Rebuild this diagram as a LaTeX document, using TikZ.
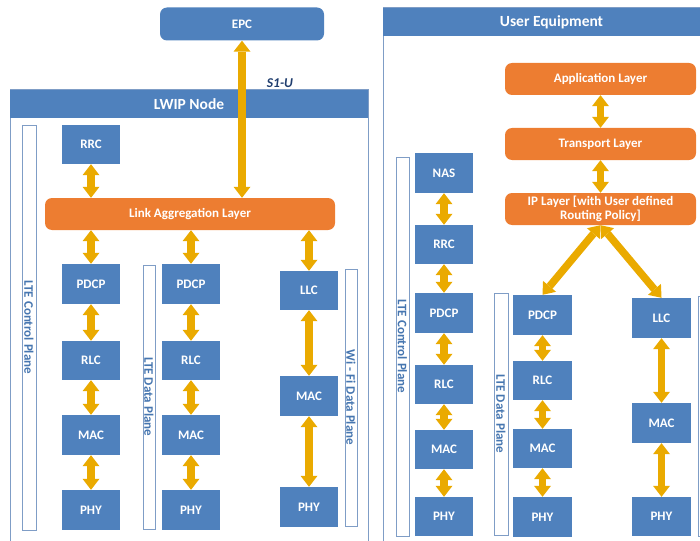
\documentclass[tikz,border=0pt]{standalone}
\usepackage{fontspec}
\setmainfont{Carlito}
\usetikzlibrary{arrows.meta}

\definecolor{boxblue}{HTML}{4F81BD}
\definecolor{layerorange}{HTML}{ED7D31}
\definecolor{arrowgold}{HTML}{EAAA00}
\definecolor{framebl}{HTML}{7F9DC6}
\definecolor{labelblue}{HTML}{4676B0}
\definecolor{linkblue}{HTML}{1F3D6E}

\tikzset{
  boxfont/.style={font=\bfseries\fontsize{13}{15}\selectfont},
  block/.style={boxfont, fill=boxblue, text=white, minimum width=58pt,
    minimum height=40pt, inner sep=0pt},
  layer/.style={boxfont, fill=layerorange, text=white, rounded corners=7pt,
    minimum width=191pt, minimum height=32pt, inner sep=0pt, align=center},
  header/.style={font=\bfseries\fontsize{15.5}{17}\selectfont, fill=boxblue,
    text=white, minimum height=28pt, inner sep=0pt},
  frame/.style={draw=framebl, line width=1pt},
  planebar/.style={draw=framebl, fill=white, line width=0.8pt, rotate=-90,
    text=labelblue, font=\bfseries\fontsize{13}{15}\selectfont, inner sep=0pt},
  link/.style={draw=arrowgold, line width=7.5pt,
    {Triangle[width=17pt,length=11pt,line width=0pt]}-{Triangle[width=17pt,length=11pt,line width=0pt]}},
}

\begin{document}
\begin{tikzpicture}[x=1pt,y=-1pt]
\useasboundingbox (0,0) rectangle (700,540);
\clip (0,0) rectangle (700,540);

% ---------- LWIP node side ----------
\node[block, rounded corners=7pt, minimum width=164pt, minimum height=33pt] (epc) at (242,24) {EPC};
\draw[frame] (10,90) rectangle (368,550);
\node[header, minimum width=358pt] (lwip) at (189,104) {LWIP Node};
\node[font=\bfseries\itshape\fontsize{13.5}{15}\selectfont, text=linkblue] (s1u) at (280,83) {S1-U};

\node[planebar, minimum width=405pt, minimum height=14pt] (ctrlA) at (29,327.5) {LTE Control Plane};
\node[planebar, minimum width=264pt, minimum height=12pt] (dataA) at (149,397) {LTE Data Plane};
\node[planebar, minimum width=257pt, minimum height=12pt] (wifiA) at (351,397.5) {Wi - Fi Data Plane};

\node[block, minimum height=39pt] (rrcA) at (91,144.5) {RRC};
\node[layer, minimum width=290pt] (agg) at (190,214) {Link Aggregation Layer};

\node[block] (pdcpA) at (91,284) {PDCP};
\node[block, minimum height=39pt] (rlcA) at (91,360.5) {RLC};
\node[block] (macA) at (91,435) {MAC};
\node[block] (phyA) at (91,510) {PHY};

\node[block] (pdcpB) at (191,284) {PDCP};
\node[block, minimum height=39pt] (rlcB) at (191,360.5) {RLC};
\node[block] (macB) at (191,435) {MAC};
\node[block] (phyB) at (191,510) {PHY};

\node[block, minimum height=39pt] (llcA) at (309,290.5) {LLC};
\node[block] (macW) at (309,396) {MAC};
\node[block] (phyW) at (309,507) {PHY};

% ---------- User equipment side ----------
\draw[frame] (383,8) rectangle (720,550);
\node[header, minimum width=337pt] (ue) at (551.5,22) {User Equipment};

\node[layer] (app) at (600.5,79) {Application Layer};
\node[layer] (trans) at (600.5,144) {Transport Layer};
\node[layer, font=\bfseries\fontsize{13}{14}\selectfont] (ip) at (600.5,209) {IP Layer [with User defined\\Routing Policy]};

\node[planebar, minimum width=379pt, minimum height=13pt] (ctrlU) at (402.5,346.5) {LTE Control Plane};
\node[planebar, minimum width=242pt, minimum height=14pt] (dataU) at (501,414) {LTE Data Plane};
\node[planebar, minimum width=240pt, minimum height=14pt] (wifiU) at (705,416) {};

\node[block] (nasU) at (444,173) {NAS};
\node[block, minimum height=39pt] (rrcU) at (444,244.5) {RRC};
\node[block] (pdcpC) at (444,313) {PDCP};
\node[block, minimum height=39pt] (rlcC) at (444,384.5) {RLC};
\node[block, minimum height=39pt] (macC) at (444,449.5) {MAC};
\node[block, minimum height=39pt] (phyC) at (444,516.5) {PHY};

\node[block, minimum width=59pt] (pdcpU) at (542.5,315) {PDCP};
\node[block, minimum width=59pt, minimum height=39pt] (rlcU) at (542.5,380.5) {RLC};
\node[block, minimum width=59pt, minimum height=39pt] (macU) at (542.5,448.5) {MAC};
\node[block, minimum width=59pt] (phyU) at (542.5,517) {PHY};

\node[block, minimum width=59pt] (llcU) at (661.5,318) {LLC};
\node[block, minimum width=59pt] (macV) at (661.5,423) {MAC};
\node[block, minimum width=59pt, minimum height=39pt] (phyV) at (661.5,516.5) {PHY};

% ---------- connectors ----------
\draw[link] (epc.south) -- (epc.south |- agg.north);
\draw[link] (rrcA.south) -- (rrcA.south |- agg.north);
\draw[link] (agg.south -| pdcpA) -- (pdcpA.north);
\draw[link] (agg.south -| pdcpB) -- (pdcpB.north);
\draw[link] (agg.south -| llcA) -- (llcA.north);
\draw[link] (pdcpA) -- (rlcA);
\draw[link] (rlcA) -- (macA);
\draw[link] (macA) -- (phyA);
\draw[link] (pdcpB) -- (rlcB);
\draw[link] (rlcB) -- (macB);
\draw[link] (macB) -- (phyB);
\draw[link] (llcA) -- (macW);
\draw[link] (macW) -- (phyW);

\draw[link] (app) -- (trans);
\draw[link] (trans) -- (ip);
\draw[link] (ip.south) -- (pdcpU.north);
\draw[link] (ip.south) -- (llcU.north);
\draw[link] (nasU) -- (rrcU);
\draw[link] (rrcU) -- (pdcpC);
\draw[link] (pdcpC) -- (rlcC);
\draw[link] (rlcC) -- (macC);
\draw[link] (macC) -- (phyC);
\draw[link] (pdcpU) -- (rlcU);
\draw[link] (rlcU) -- (macU);
\draw[link] (macU) -- (phyU);
\draw[link] (llcU) -- (macV);
\draw[link] (macV) -- (phyV);
\end{tikzpicture}
\end{document}
